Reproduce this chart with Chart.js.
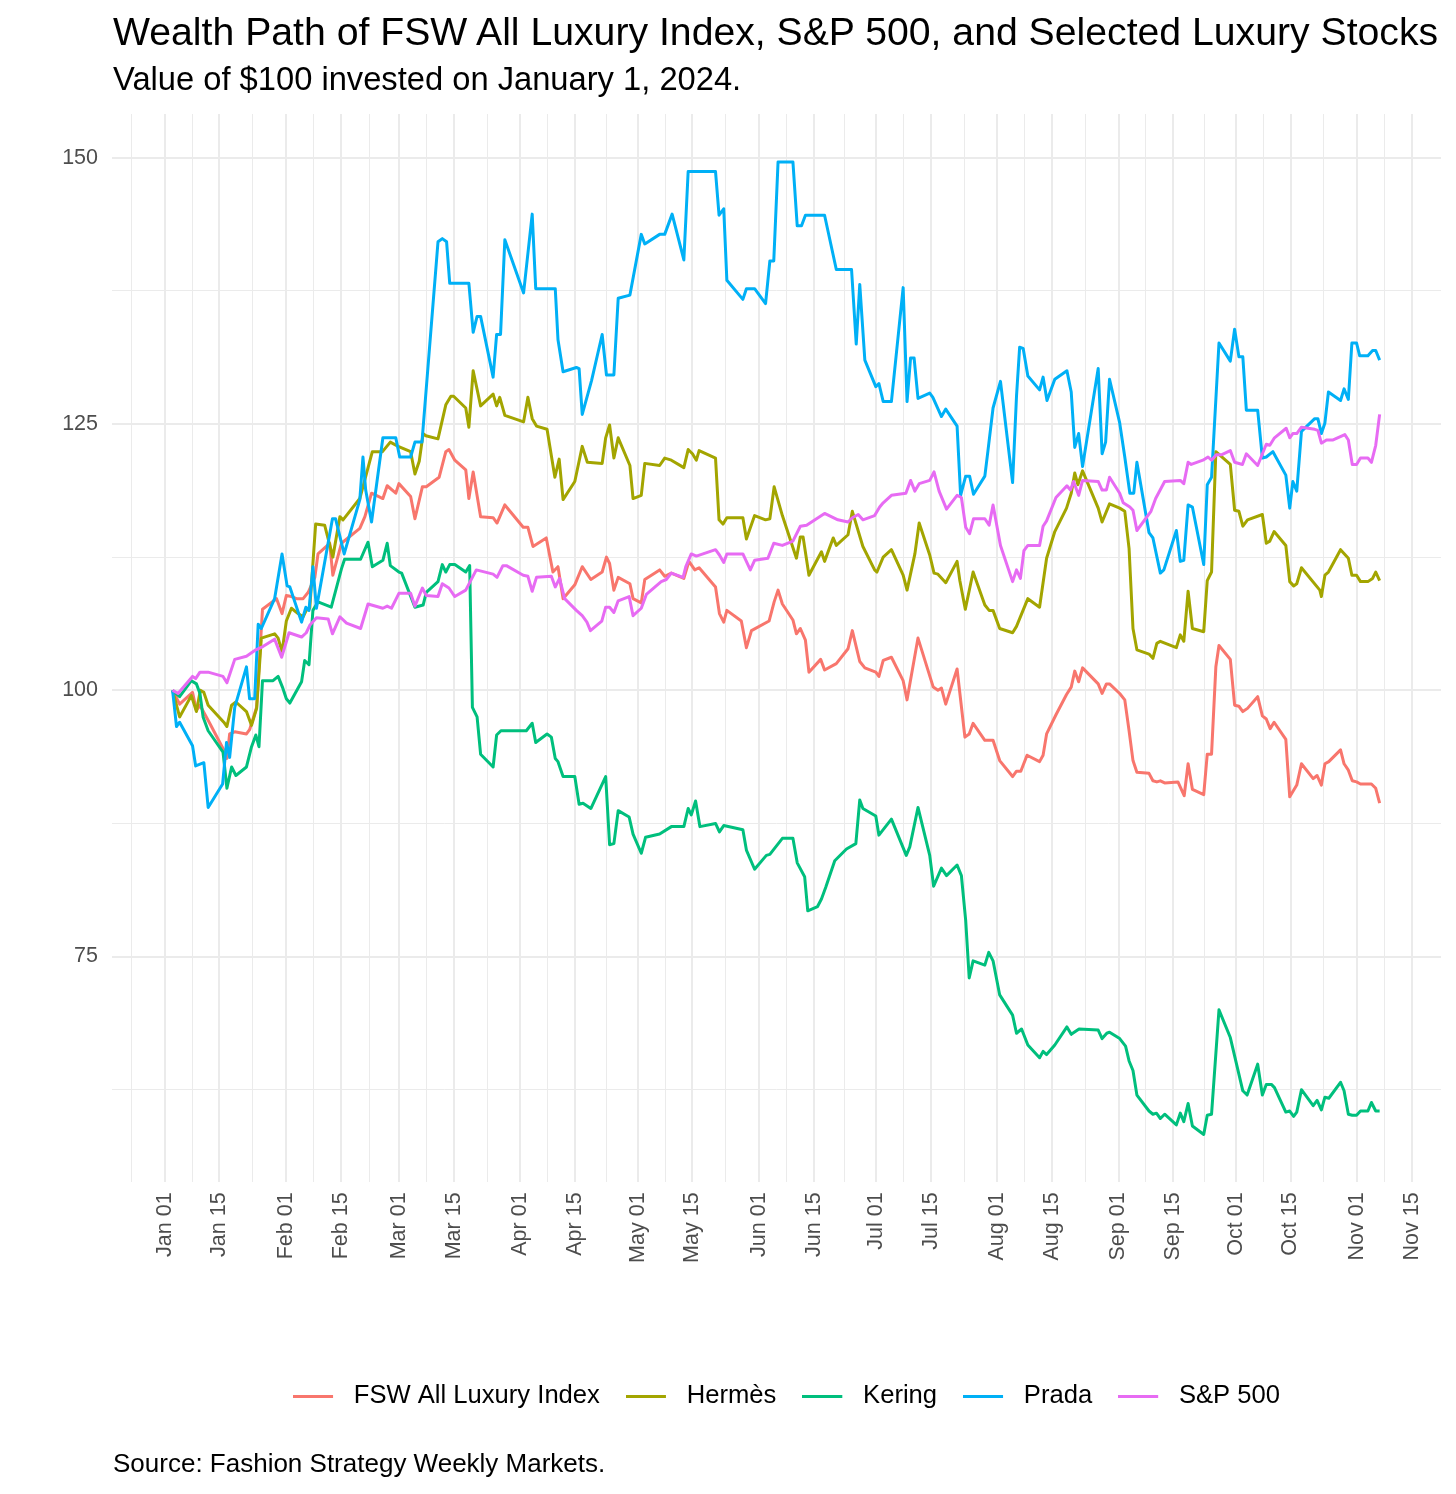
<!DOCTYPE html>
<html>
<head>
<meta charset="utf-8">
<title>Wealth Path of FSW All Luxury Index, S&amp;P 500, and Selected Luxury Stocks</title>
<script src="https://cdn.jsdelivr.net/npm/chart.js@4.4.1/dist/chart.umd.min.js"></script>
<style>
  body { margin: 0; background: #fff; font-family: 'Liberation Sans', Arial, sans-serif; }
  #wrap { position: relative; width: 1456px; height: 1494px; }
  #chart { position: absolute; left: 0; top: 0; }
  .txt { position: absolute; left: 113px; color: #000; white-space: nowrap; line-height: 1; }
  #title { top: 12px; font-size: 39.2px; }
  #subtitle { top: 63px; font-size: 32.7px; }
  #caption { top: 1450px; font-size: 26px; }
</style>
</head>
<body>
<div id="wrap">
  <canvas id="chart" width="1456" height="1494"></canvas>
  <div class="txt" id="title">Wealth Path of FSW All Luxury Index, S&amp;P 500, and Selected Luxury Stocks</div>
  <div class="txt" id="subtitle">Value of $100 invested on January 1, 2024.</div>
  <div class="txt" id="caption">Source: Fashion Strategy Weekly Markets.</div>
</div>
<script>
// x = days since Jan 1 2024, y = value of $100
const fswPath = [[2,100],[3.8,98.7],[7.1,99.8],[8.1,98.1],[9,98.6],[11.5,96.9],[15.1,94.4],[15.9,93.6],[16.6,95.9],[17.9,96.1],
  [20.9,95.9],[21.7,96.3],[23.5,98.4],[25,107.6],[28.6,108.6],[30,107.2],[31.1,108.9],[32.4,108.8],[33.7,108.6],[35.4,108.6],
  [36.7,109.2],[38.4,110.6],[39.2,112.8],[42.2,113.8],[43,110.8],[45.2,113.8],[49.9,115.2],[51.2,116.3],[52.9,118.5],[55.8,118.0],
  [56.9,119.2],[59.1,118.5],[59.9,119.4],[62.9,118.2],[64,116.1],[65.9,119.1],[66.9,119.1],[70.2,120.0],[71.9,122.4],[72.7,122.6],
  [74.2,121.6],[77,120.7],[77.8,118.0],[78.9,120.5],[80.8,116.3],[84,116.2],[85,115.7],[87,117.4],[91.7,115.3],[92.9,115.3],
  [94.2,113.5],[97.6,114.3],[99.3,111.1],[100.6,111.6],[101.9,108.6],[104.9,109.9],[106.8,111.6],[109,110.4],[111.9,111.1],[113,112.5],
  [113.8,111.9],[114.9,109.4],[116,110.6],[119,110.0],[119.8,108.6],[121.9,108.2],[122.8,110.4],[126.6,111.3],[127.9,110.7],[129.6,111.0],
  [132.8,110.5],[134.1,112.1],[135.6,111.3],[136.7,111.5],[140.9,109.7],[141.9,107.2],[143,106.4],[143.8,107.5],[147.5,106.5],[148.8,104.0],
  [150.1,105.6],[154.6,106.5],[155.9,108.3],[156.9,109.4],[158,108.1],[160.7,106.6],[161.6,105.3],[162.6,105.8],[163.9,104.7],[164.8,101.7],
  [167.8,102.9],[168.8,101.9],[171.8,102.5],[174.8,103.9],[175.9,105.6],[177.8,102.7],[179.1,102.1],[181.9,101.7],[182.7,101.3],[183.8,102.8],
  [185.9,103.1],[188.9,100.9],[189.9,99.1],[192.7,104.9],[196.6,100.3],[197.8,100.0],[198.7,100.2],[199.8,98.7],[202.7,102.0],[204.7,95.6],
  [205.8,95.9],[206.8,96.9],[209.8,95.3],[211.9,95.3],[213.6,93.4],[216.9,91.9],[217.9,92.4],[219,92.4],[220.6,93.9],[223.8,93.3],
  [224.7,93.9],[225.6,95.9],[228,97.7],[230.7,99.6],[231.9,100.3],[232.8,101.8],[233.8,100.8],[234.8,102.1],[238.8,100.6],[239.8,99.7],
  [240.9,100.6],[241.7,100.6],[244.3,99.7],[245.6,99.1],[246.7,96.2],[247.7,93.4],[248.7,92.3],[251.8,92.2],[252.8,91.5],[253.8,91.4],
  [254.7,91.5],[255.8,91.3],[259.2,91.4],[260.8,90.1],[261.8,93.1],[262.9,90.7],[265.8,90.2],[266.7,94.0],[267.8,94.0],[268.9,102.2],
  [269.7,104.2],[272.6,102.9],[273.7,98.6],[274.8,98.5],[275.8,98.0],[277,98.3],[279.6,99.4],[280.8,97.6],[281.8,97.3],[282.8,96.4],
  [283.8,97.0],[286.8,95.4],[287.8,90.0],[289.6,91.1],[290.8,93.1],[293.8,91.7],[294.8,92.0],[295.9,91.1],[296.8,93.1],[297.8,93.3],
  [300.8,94.4],[301.7,93.1],[302.8,92.5],[303.8,91.5],[304.9,91.4],[305.9,91.2],[308.7,91.2],[309.8,90.8],[310.8,89.4]];

const hermesPath = [[2,100],[3.8,97.5],[6.8,99.5],[8.1,98.0],[9.1,100],[10,99.8],[11.1,98.6],[15.1,97.0],[15.9,96.6],[17.1,98.6],
  [18.2,98.9],[20.9,98.0],[22.2,96.7],[23.5,98.3],[24.7,104.9],[28.1,105.3],[29,104.9],[30,103.6],[31.1,106.5],[32.4,107.7],
  [34.1,107.2],[35.4,106.9],[36.2,107.5],[37.1,107.7],[38.6,115.6],[40.9,115.5],[43,112.5],[44.8,116.3],[45.6,116.0],[49.9,118.0],
  [53.1,122.4],[55.7,122.4],[57.7,123.3],[59.7,122.9],[62.9,122.4],[64,120.3],[65.1,121.5],[66.1,124.1],[66.8,123.9],[69.9,123.6],
  [71.9,126.8],[73.2,127.6],[73.9,127.6],[77,126.5],[77.8,124.7],[78.9,130.0],[80.8,126.7],[84,127.8],[84.9,126.7],[85.7,127.5],
  [87,125.8],[91.8,125.2],[92.9,127.5],[94,125.5],[95.1,124.8],[97.8,124.5],[99.8,120.0],[100.9,121.7],[101.9,117.9],[104.9,119.6],
  [106.8,122.9],[108.1,121.4],[111.9,121.3],[112.8,123.7],[113.8,124.9],[114.9,121.8],[116,123.7],[119,121.1],[119.8,118.0],[121.9,118.3],
  [122.8,121.3],[126.6,121.1],[127.9,121.8],[129.6,121.6],[132.8,120.9],[133.9,122.6],[135,122.2],[136,121.6],[136.7,122.5],[140.9,121.8],
  [141.8,116.0],[142.8,115.6],[143.8,116.2],[147.9,116.2],[148.8,114.2],[150.9,116.4],[153.7,116.0],[154.8,116.1],[155.9,119.1],[158,116.4],
  [161.6,112.4],[162.6,114.4],[163.3,114.4],[164.8,110.8],[168,113.0],[168.8,112.1],[171,114.3],[171.8,113.6],[174.8,114.6],[175.9,116.8],
  [178.6,113.5],[181.6,111.3],[182.2,111.1],[183.8,112.5],[185.9,113.2],[188.9,110.8],[189.9,109.4],[191.9,112.8],[193,115.7],[195.7,112.7],
  [196.8,111.0],[197.8,110.9],[199.8,110.1],[202.7,112.1],[203.4,110.3],[204.8,107.6],[206.8,111.1],[209.8,108.0],[210.9,107.5],[211.9,107.5],
  [213.6,105.8],[216.9,105.4],[217.9,106.0],[220.8,108.6],[223.8,107.8],[225.6,112.4],[227.7,114.9],[230.7,117.1],[231.9,118.5],[232.8,120.4],
  [233.6,119.3],[234.8,120.6],[238.8,117.1],[239.8,115.8],[241.7,117.5],[244.3,117.1],[245.6,116.8],[246.7,113.3],[247.7,105.8],[248.7,103.8],
  [251.8,103.4],[252.8,103.0],[253.8,104.4],[254.7,104.6],[258.8,104.0],[259.8,105.2],[260.7,104.6],[261.8,109.3],[262.9,105.8],[265.8,105.5],
  [266.7,110.3],[267.8,111.1],[268.9,122.4],[272.6,121.2],[273.7,116.9],[274.8,116.8],[275.8,115.4],[277,116.0],[280.8,116.5],[281.8,113.8],
  [282.7,114.0],[283.8,114.9],[286.8,113.6],[287.8,110.2],[288.8,109.8],[289.6,110.0],[290.8,111.5],[295.5,109.4],[295.9,108.8],[296.8,110.8],
  [297.7,111.1],[300.8,113.2],[302.8,112.4],[303.7,110.8],[304.9,110.8],[305.9,110.2],[307.8,110.2],[309,110.5],[309.8,111.1],[310.8,110.3]];

const keringPath = [[2,100],[3.8,99.4],[6.8,100.9],[8.1,100.6],[9,99.7],[9.8,97.5],[11.1,96.2],[14.9,94.2],[15.9,90.8],[17.1,92.8],
  [18.2,92.0],[20.9,92.8],[22.2,94.7],[23.3,95.8],[24.1,94.7],[25,100.9],[27.7,100.9],[29,101.3],[30.1,100.3],[31.1,99.2],
  [32,98.8],[35,100.8],[35.8,102.8],[36.9,102.4],[37.9,107.5],[39.2,108.3],[42.6,107.8],[45.2,111.4],[46,112.3],[50.1,112.3],
  [52,113.9],[53.1,111.6],[55.8,112.2],[56.9,113.8],[57.7,111.7],[59.9,111.1],[60.6,111.0],[64,107.8],[66.1,108.0],[66.9,109.2],
  [69.9,110.2],[71,111.8],[71.9,111.1],[72.9,111.8],[74.2,111.8],[77,111.1],[78,111.7],[78.7,98.4],[79.9,97.5],[80.8,94.0],
  [84,92.8],[84.9,95.8],[86,96.2],[92.5,96.2],[94,96.9],[94.9,95.1],[97.8,95.9],[98.9,95.6],[99.9,93.6],[100.6,93.3],
  [101.9,91.9],[104.9,91.9],[106,89.3],[107,89.4],[109,88.9],[112.8,91.9],[113.8,85.5],[114.9,85.6],[116,88.7],[118.8,88.1],
  [119.8,86.5],[121.9,84.7],[123,86.2],[126.6,86.5],[129.6,87.2],[132.8,87.2],[133.9,88.9],[134.7,88.3],[135.8,89.6],[136.9,87.2],
  [140.9,87.5],[141.9,86.7],[143,87.3],[147.9,86.9],[148.8,85.0],[150.9,83.2],[153.9,84.5],[154.8,84.6],[158,86.1],[160.7,86.1],
  [161.8,83.8],[163.7,82.5],[164.5,79.3],[167,79.7],[168,80.4],[169.1,81.5],[171.4,84.0],[174.4,85.1],[176.8,85.6],[177.8,89.7],
  [178.6,88.9],[181.9,88.2],[182.7,86.4],[185.9,87.9],[189.7,84.5],[190.6,85.3],[192.7,89.0],[195.7,84.5],[196.7,81.6],[198.7,83.3],
  [200,82.6],[202.7,83.6],[203.8,82.6],[204.9,78.4],[205.8,73.0],[206.8,74.6],[209.8,74.2],[210.8,75.4],[211.9,74.6],[213.6,71.4],
  [216.9,69.5],[217.9,67.8],[219.2,68.2],[220.8,66.7],[223.8,65.5],[224.7,66.1],[225.6,65.8],[227.7,66.7],[230.8,68.4],[231.9,67.7],
  [233.9,68.2],[238.8,68.1],[239.8,67.3],[241,67.8],[241.7,67.9],[244.3,67.3],[245.8,66.6],[246.7,65.2],[247.7,64.3],[248.7,62.0],
  [251.8,60.5],[252.8,60.2],[253.7,60.3],[254.7,59.8],[255.8,60.2],[258.8,59.2],[259.8,60.3],[260.7,59.5],[261.8,61.2],[262.9,59.1],
  [265.8,58.3],[266.7,60.1],[267.8,60.2],[269.7,70.0],[272.6,67.4],[275.8,62.4],[276.9,62.0],[279.6,64.9],[280.8,62.0],[281.8,63.0],
  [283.1,63.0],[283.9,62.7],[286.8,60.4],[287.8,60.5],[288.8,60.0],[289.6,60.4],[290.8,62.5],[293.8,61.0],[294.8,61.5],[295.9,60.6],
  [296.8,61.8],[297.8,61.7],[300.8,63.2],[301.7,62.4],[302.8,60.2],[303.8,60.1],[304.9,60.1],[305.9,60.5],[307.8,60.5],[308.7,61.3],
  [309.8,60.5],[310.8,60.5]];

const pradaPath = [[2,100],[3,96.6],[3.8,97.0],[7.1,94.8],[7.9,92.9],[10,93.2],[11.1,89.0],[14.8,91.2],[15.8,95.1],[16.6,93.7],
  [17.9,98.4],[20.9,102.2],[21.7,99.2],[23,99.2],[23.9,106.2],[24.7,105.8],[28.1,108.6],[30,112.8],[31.3,109.8],[32,109.7],
  [35,106.4],[36.1,107.8],[36.9,107.5],[37.9,111.6],[38.8,107.7],[42.9,116.1],[43.7,116.1],[45.9,112.8],[49.9,117.9],[50.7,121.9],
  [51.4,118.8],[52.9,115.8],[55.8,123.7],[59.1,123.7],[60.1,121.9],[62.9,121.9],[64,123.3],[65.8,123.3],[69.9,142.1],[71,142.4],
  [72.1,142.1],[72.9,138.2],[77.8,138.2],[78.9,133.6],[79.9,135.1],[80.8,135.1],[84,129.4],[84.9,133.4],[85.9,133.4],[87,142.3],
  [91.8,137.3],[94,144.7],[94.9,137.7],[99.9,137.7],[100.6,132.9],[101.9,129.9],[105.3,130.3],[106,130.2],[106.8,125.9],[109.2,129.1],
  [111.9,133.4],[113,129.6],[114.9,129.6],[116,136.8],[119,137.1],[121.9,142.8],[122.8,141.9],[126.6,142.8],[127.9,142.8],[129.8,144.7],
  [132.8,140.4],[133.9,148.7],[140.9,148.7],[141.8,144.6],[143,145.2],[143.8,138.5],[147.9,136.7],[148.8,137.7],[150.9,137.7],[153.7,136.3],
  [154.8,140.3],[155.8,140.3],[156.9,149.6],[160.7,149.6],[161.8,143.6],[162.9,143.6],[163.9,144.6],[168.8,144.6],[171.8,139.5],[175.7,139.5],
  [176.9,132.5],[177.8,138.1],[179.1,131.0],[181.9,128.5],[182.7,128.8],[183.8,127.1],[185.9,127.1],[188.9,137.8],[189.9,127.1],[190.8,131.2],
  [191.7,131.2],[192.7,127.4],[195.7,127.9],[196.5,127.5],[198.7,125.7],[199.8,126.4],[202.7,124.8],[203.6,118.3],[204.9,120.1],[205.9,120.1],
  [206.9,118.4],[209.8,120.1],[210.6,122.5],[211.9,126.5],[213.8,129.0],[216.9,119.5],[217.9,127.6],[218.7,132.2],[219.6,132.1],[220.8,129.5],
  [223.8,128.2],[224.7,129.4],[225.7,127.2],[227.7,129.2],[230.8,130.0],[231.9,128.0],[232.8,122.8],[233.8,124.1],[234.8,121.0],[238.8,130.2],
  [239.8,122.2],[240.7,123.3],[241.7,129.2],[244.3,125.1],[245.6,121.9],[246.9,118.5],[247.9,118.5],[248.7,121.4],[251.8,114.8],[252.8,114.3],
  [254.7,111.0],[255.6,111.3],[258.8,115.0],[259.8,112.1],[260.7,112.2],[261.8,117.4],[262.9,117.2],[265.8,111.8],[266.7,119.3],[267.8,120.0],
  [269.7,132.6],[272.6,130.9],[273.7,133.9],[274.8,131.3],[275.8,131.3],[276.7,126.3],[279.6,126.3],[280.8,121.8],[281.8,121.9],[283.5,122.4],
  [286.8,120.2],[287.8,117.1],[288.6,119.6],[289.6,118.7],[290.8,124.3],[294.2,125.5],[295,125.5],[295.9,124.1],[296.8,125.1],[297.7,128.0],
  [300.8,127.2],[301.7,128.3],[302.8,127.3],[303.7,132.6],[304.9,132.6],[305.7,131.4],[307.8,131.4],[309,131.9],[309.8,131.9],[310.8,131.0]];

const spPath = [[2,100],[3.4,99.7],[7.1,101.3],[7.9,101.1],[9,101.7],[11.1,101.7],[14.9,101.3],[15.9,100.7],[17.9,102.9],[20.9,103.2],
  [23.3,103.8],[25.1,104.1],[28.1,104.8],[29.9,103.1],[31.8,105.4],[35,105.0],[36.2,105.4],[37.1,106.1],[38.8,106.8],[41.8,106.7],
  [42.9,105.3],[44.8,106.9],[46.5,106.3],[50.1,105.8],[52,108.1],[55.8,107.7],[56.9,107.9],[58,107.7],[59.9,109.1],[62.9,109.1],
  [64,107.9],[65.9,109.6],[66.9,108.9],[69.9,108.8],[71,110.0],[72.7,109.6],[74.2,108.8],[77,109.4],[79.7,111.3],[84,110.9],
  [85,110.6],[86.5,111.7],[87.4,111.7],[91.7,110.8],[92.9,110.7],[94,109.3],[95.1,110.6],[98.9,110.7],[99.9,109.7],[101,110.5],
  [102.3,108.6],[105.3,107.5],[106.8,107.0],[108,106.4],[108.9,105.6],[111.8,106.5],[112.8,107.8],[113.8,107.8],[114.9,107.3],[116,108.4],
  [118.8,108.8],[119.8,107.0],[121.9,107.7],[123.2,109.0],[127,110.2],[128.3,110.4],[129.6,111.0],[132.6,110.6],[133.3,111.6],[134.7,112.8],
  [136,112.6],[140.9,113.2],[141.9,112.7],[143,112.0],[143.8,112.8],[147.9,112.8],[149.8,111.3],[150.9,112.2],[154.3,112.4],[155.8,113.8],
  [158,113.6],[160.7,114.0],[162.6,115.4],[164.2,115.5],[168.8,116.6],[172.2,116.0],[174.8,115.8],[175.9,116.2],[177.4,116.5],[178.6,116.0],
  [181.6,116.4],[182.9,117.2],[183.8,117.6],[185.9,118.3],[189.6,118.5],[190.8,119.7],[191.9,118.7],[193,119.4],[195.7,119.7],[196.8,120.5],
  [198.1,118.7],[200,117.0],[202.7,118.3],[203.8,118.1],[204.9,115.3],[205.9,114.7],[206.9,116.1],[209.8,116.1],[210.9,115.5],[211.9,117.4],
  [213.8,113.6],[216.9,110.2],[217.9,111.3],[218.9,110.5],[219.8,113.1],[220.8,113.6],[223.8,113.6],[224.7,115.4],[225.6,115.9],[228,118.1],
  [230.8,119.2],[231.7,118.8],[232.5,119.6],[233.8,118.3],[234.8,119.7],[238.8,119.6],[239.8,118.8],[240.9,118.8],[241.7,120.0],[244.3,118.5],
  [245.2,117.6],[246.9,117.2],[247.7,116.9],[248.7,115.0],[252.3,116.8],[253.5,118.0],[255.8,119.6],[259.8,119.7],[260.7,119.4],[261.8,121.4],
  [262.6,121.2],[265.6,121.6],[266.9,121.9],[267.8,121.6],[269,122.1],[270.3,122.1],[272.6,122.5],[273.7,121.4],[275.7,121.2],[276.7,122.2],
  [279.6,121.1],[281.8,123.1],[282.7,123.0],[283.9,123.7],[286.9,124.6],[287.8,123.7],[288.6,124.1],[289.6,124.1],[290.8,124.7],[294.2,124.5],
  [295,124.4],[295.9,123.2],[297.2,123.5],[298.9,123.5],[301.9,124.0],[302.8,123.5],[303.8,121.2],[304.9,121.2],[305.9,121.8],[307.8,121.8],
  [308.7,121.4],[309.8,123.0],[310.8,125.9]];

// date breaks (days since Jan 1 2024) and their labels
const tickDays = [0, 14, 31, 45, 60, 74, 91, 105, 121, 135, 152, 166, 182, 196, 213, 227, 244, 258, 274, 288, 305, 319];
const tickLabels = ['Jan 01', 'Jan 15', 'Feb 01', 'Feb 15', 'Mar 01', 'Mar 15', 'Apr 01', 'Apr 15', 'May 01', 'May 15',
  'Jun 01', 'Jun 15', 'Jul 01', 'Jul 15', 'Aug 01', 'Aug 15', 'Sep 01', 'Sep 15', 'Oct 01', 'Oct 15', 'Nov 01', 'Nov 15'];
const yBreaks = [75, 100, 125, 150];

Chart.defaults.font.family = "'Liberation Sans', Arial, sans-serif";

// minor grid lines sit half way between the breaks (first one is between Dec 15 and Jan 01)
const xMinor = [(-17 + tickDays[0]) / 2];
for (let i = 0; i < tickDays.length - 1; i++) {
    xMinor.push((tickDays[i] + tickDays[i + 1]) / 2);
}
const xAll = tickDays.concat(xMinor).sort((a, b) => a - b);
const yMinor = [];
for (let i = 0; i < yBreaks.length; i++) {
    yMinor.push(yBreaks[i] - 12.5);
}
const yAll = yBreaks.concat(yMinor).sort((a, b) => a - b);

// legend key: short line with some room after it, like ggplot's keys
function legendKey(color) {
    const c = document.createElement('canvas');
    c.width = 48;
    c.height = 3;
    const g = c.getContext('2d');
    g.fillStyle = color;
    g.fillRect(0, 0, 40, 3);
    return c;
}

function series(label, path, color, order) {
    return {
        label: label,
        data: path.map(p => ({ x: p[0], y: p[1] })),
        borderColor: color,
        backgroundColor: color,
        borderWidth: 3,
        borderJoinStyle: 'round',
        pointRadius: 0,
        pointStyle: legendKey(color),
        tension: 0,
        fill: false,
        order: order
    };
}

const data = {
    datasets: [
        series('FSW All Luxury Index', fswPath, '#F8766D', 5),
        series('Hermès', hermesPath, '#A3A500', 4),
        series('Kering', keringPath, '#00BF7D', 3),
        series('Prada', pradaPath, '#00B0F6', 2),
        series('S&P 500', spPath, '#E76BF3', 1)
    ]
};

// ggplot centres the legend a little right of the panel centre
const nudgeLegend = {
    id: 'nudgeLegend',
    afterLayout(chart) {
        chart.legend.left += 10;
        chart.legend.right += 10;
    }
};

const config = {
    type: 'line',
    data: data,
    plugins: [nudgeLegend],
    options: {
        responsive: false,
        animation: false,
        layout: { padding: { left: 0, right: 15, top: 114, bottom: 75 } },
        plugins: {
            tooltip: { enabled: false },
            legend: {
                position: 'bottom',
                fullSize: false,
                labels: {
                    usePointStyle: true,
                    pointStyleWidth: 48,
                    boxHeight: 0,
                    padding: 26,
                    color: '#000',
                    font: { size: 25.6 },
                    sort: (a, b) => a.datasetIndex - b.datasetIndex
                }
            }
        },
        scales: {
            x: {
                type: 'linear',
                min: -13.5,
                max: 326.5,
                afterBuildTicks: s => { s.ticks = xAll.map(v => ({ value: v })); },
                afterFit: s => { s.height = 175; },
                ticks: {
                    autoSkip: false,
                    minRotation: 90,
                    maxRotation: 90,
                    padding: 10,
                    color: '#4D4D4D',
                    font: { size: 21.5 },
                    callback: v => {
                        const i = tickDays.indexOf(v);
                        return i >= 0 ? tickLabels[i] : '';
                    }
                },
                grid: {
                    color: '#EBEBEB',
                    lineWidth: c => (tickDays.indexOf(c.tick.value) >= 0 ? 2 : 1),
                    drawTicks: false
                },
                border: { display: false }
            },
            y: {
                min: 53.8,
                max: 154.1,
                afterBuildTicks: s => { s.ticks = yAll.map(v => ({ value: v })); },
                afterFit: s => { s.width = 112; },
                ticks: {
                    padding: 14,
                    color: '#4D4D4D',
                    font: { size: 21.5 },
                    callback: v => (yBreaks.indexOf(v) >= 0 ? String(v) : '')
                },
                grid: {
                    color: '#EBEBEB',
                    lineWidth: c => (yBreaks.indexOf(c.tick.value) >= 0 ? 2 : 1),
                    drawTicks: false
                },
                border: { display: false }
            }
        }
    }
};

const myChart = new Chart(document.getElementById('chart'), config);
</script>
</body>
</html>
